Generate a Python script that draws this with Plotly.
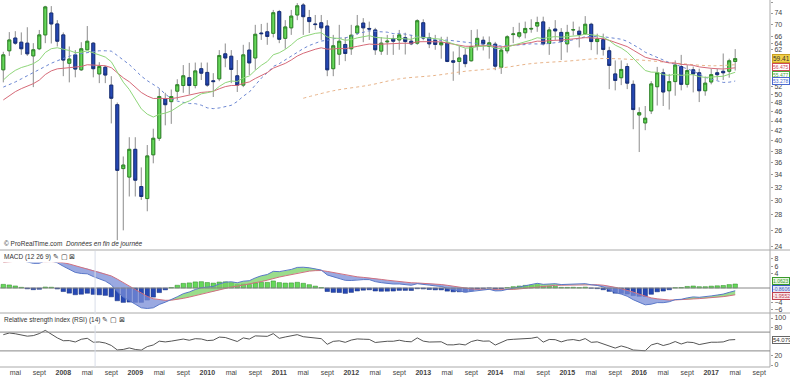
import numpy as np
import plotly.graph_objects as go

# ---------------- DATA (monthly, Mar 2007 -> May 2017) ----------------
opens = [56.3,61.7,65.6,64.3,64.0,60.2,62.3,66.6,74.0,70.2,66.6,58.1,60.5,56.3,62.0,64.0,55.2,57.0,52.3,47.6,
         35.0,33.6,38.4,32.1,30.3,37.4,40.5,49.0,48.3,50.8,52.2,54.2,52.2,56.6,55.6,53.4,53.9,60.8,60.1,54.7,
         52.3,61.9,59.6,67.2,67.6,67.1,74.5,65.5,68.9,73.3,76.9,72.4,70.2,70.6,69.5,56.6,60.7,63.6,62.3,67.2,
         70.5,68.7,68.2,61.6,64.4,65.4,65.0,65.7,64.6,64.0,70.6,65.7,64.9,63.5,64.0,58.8,58.6,60.4,58.8,63.0,
         64.9,63.0,63.7,57.0,61.7,66.7,66.2,67.3,68.5,69.5,70.9,63.9,68.5,67.4,63.8,68.2,67.8,67.0,70.1,64.5,
         65.1,61.7,55.2,54.2,57.2,52.5,45.3,43.6,46.2,51.9,55.5,50.9,53.2,57.2,52.5,56.3,55.5,50.9,53.1,55.5,
         55.9,55.9,58.6]
highs = [61.4,67.5,67.8,67.4,69.1,64.0,68.2,76.6,76.5,71.5,67.4,63.0,61.9,64.3,69.5,64.3,58.4,57.4,54.6,48.1,
         37.1,40.7,40.7,35.2,39.2,42.4,51.4,50.4,51.2,53.8,57.6,58.2,58.3,58.3,58.3,55.4,61.9,63.9,61.9,59.0,
         63.5,64.3,69.9,70.2,70.6,75.1,75.1,71.5,75.1,77.6,77.6,75.1,73.3,73.3,71.5,66.6,69.9,65.9,69.9,73.3,
         72.2,71.0,68.9,65.9,66.6,66.6,68.2,67.3,66.6,71.8,71.8,67.3,66.6,66.0,66.0,61.5,63.1,62.4,68.2,68.4,
         66.1,66.1,64.4,63.0,66.5,69.2,70.6,71.0,71.8,72.7,72.7,69.2,71.5,68.8,69.9,71.0,69.3,72.9,70.6,67.0,
         67.0,62.9,58.9,58.9,58.1,53.5,47.0,47.3,53.3,57.1,56.6,55.2,58.9,60.5,57.6,57.2,56.6,54.5,56.6,56.6,
         60.9,59.4,62.2]
lows = [53.0,60.2,63.5,60.5,60.2,51.8,61.9,64.0,63.9,63.0,54.6,53.0,54.3,56.0,61.9,54.3,52.8,52.8,43.5,24.8,
        26.0,30.6,30.6,30.1,28.5,35.9,40.0,43.1,43.4,48.7,50.4,50.0,51.5,53.6,51.9,49.4,53.3,57.0,52.8,50.6,
        51.8,54.9,56.3,65.0,63.5,65.8,64.0,62.3,66.6,71.5,66.6,67.2,68.2,65.0,54.6,54.6,57.6,58.7,60.5,66.6,
        64.3,65.0,60.5,60.5,60.5,60.5,62.0,60.6,63.4,63.5,64.9,62.5,62.0,59.4,58.4,53.4,55.0,57.0,58.6,61.8,
        61.8,59.4,56.2,55.2,60.9,64.0,65.5,65.5,67.3,67.6,63.3,60.5,65.0,59.0,61.2,66.4,62.7,66.6,61.9,60.6,
        60.3,51.3,51.0,52.3,51.3,42.3,37.9,42.1,45.5,47.4,47.3,46.5,49.7,51.0,51.7,50.5,48.2,49.7,52.5,53.6,
        53.6,54.2,56.1]
closes = [60.5,65.0,64.0,62.3,60.8,62.0,66.6,76.2,70.2,64.6,59.0,59.3,56.5,62.3,64.6,56.6,57.2,54.9,49.1,34.7,
          35.6,38.4,33.1,30.6,37.2,40.5,49.5,47.6,49.5,52.4,54.7,52.2,56.0,55.4,52.3,53.2,60.3,59.6,56.4,52.3,
          60.5,58.2,66.8,67.0,66.1,74.1,65.2,69.2,72.9,76.6,72.7,71.0,70.0,68.9,56.3,63.2,64.6,60.9,66.5,69.5,
          68.9,68.5,62.0,64.0,64.6,64.6,66.6,64.5,63.8,71.3,65.6,63.8,63.6,64.2,58.6,58.4,59.6,58.0,63.0,65.5,
          63.8,64.1,57.3,61.9,66.0,66.9,67.3,68.7,68.7,70.7,63.8,68.2,67.9,64.6,67.4,68.3,66.7,70.1,64.5,65.3,
          62.1,57.5,53.5,56.4,52.8,46.5,45.8,44.6,52.6,55.5,50.6,53.2,57.6,52.5,56.1,55.2,50.9,52.8,55.0,55.0,
          55.5,58.8,59.41]

start_year, start_month = 2007, 3
years = [2007, 2008, 2009, 2010, 2011, 2012, 2013, 2014, 2015, 2016, 2017]
month_ticks = {1: None, 5: "mai", 9: "sept"}

# moving averages (seeds read at the left edge of the chart)
green_span, green_seed = 15, 53.6
red_span, red_seed = 30, 48.7
blue_window = 20
blue_early = [51.8,52.4,53.1,53.9,54.7,55.6,56.5,57.3,58.1,58.8,59.5,60.1,60.6,60.9,61.2,61.5,61.7,61.7,61.6]
orange_idx = [50,55,61,66,72,77,83,88,94,99,102,107,113,118,122]
orange_val = [49.1,50.9,52.3,53.9,54.8,55.9,56.8,58.0,58.7,59.4,59.4,58.9,58.0,57.4,57.7]

# MACD / RSI seeds
macd_fast_seed, macd_slow_seed, macd_signal_seed = 57.0, 49.0, 7.0
rsi_gain_seed, rsi_loss_seed = 2.0, 1.1

# value boxes on the right axes (as printed): text, value, colour, small vertical nudge
last_close_txt = "59.41"
ma_box = [("56.475", 56.475, "#d04a5a", 2), ("55.477", 55.477, "#4aa83a", -2), ("53.278", 53.278, "#4a6ad0", 0)]
macd_box = [("1.0623", 1.0623, "#3a9a2a", "#e6f6e0", 3), ("-0.8606", -0.8606, "#3a5ac0", "#e4e8f8", 2),
            ("-1.9552", -1.9552, "#c04050", "#f8e4e8", -1)]
rsi_box = ("54.079", 54.079)

main_ticks = [78, 74, 70, 66, 64, 62, 52, 50, 48, 46, 44, 42, 40, 38, 36, 34, 32, 30, 28, 26, 24]
macd_ticks = [8, 6, 4, -4, -6]
rsi_ticks = [100, 80, 20, 0]

# ---------------- computations ----------------
n = len(closes)
idx = np.arange(n)
o = np.array(opens); h = np.array(highs); l = np.array(lows); c = np.array(closes)


def ema(vals, span, seed):
    a = 2.0 / (span + 1)
    out = [seed]
    for v in vals[1:]:
        out.append(out[-1] + a * (v - out[-1]))
    return np.array(out)


green_ma = ema(c, green_span, green_seed)
red_ma = ema(c, red_span, red_seed)
blue_ma = np.array(blue_early + [c[i - blue_window + 1:i + 1].mean() for i in range(len(blue_early), n)])

fast = ema(c, 12, macd_fast_seed)
slow = ema(c, 26, macd_slow_seed)
macd = fast - slow
sig = [macd_signal_seed]
for v in macd[1:]:
    sig.append(sig[-1] + 0.2 * (v - sig[-1]))
sig = np.array(sig)
hist = macd - sig

ag, al = rsi_gain_seed, rsi_loss_seed
rsi = [100 - 100 / (1 + ag / al)]
for i in range(1, n):
    d = c[i] - c[i - 1]
    ag = (ag * 13 + max(d, 0)) / 14
    al = (al * 13 + max(-d, 0)) / 14
    rsi.append(100 - 100 / (1 + ag / al))
rsi = np.array(rsi)

# ---------------- layout geometry ----------------
W, H = 790, 377
MT, MB, ML, MR = 0, 10, 0, 20
PH = H - MT - MB


def py(p):
    return (PH - p) / PH


X0, X1 = -0.55, 127.8
main_dom = [py(250), 1]
macd_dom = [py(313), py(251)]
rsi_dom = [0, py(314)]
main_rng = [np.log10(74 * np.exp(-(250 - 13) / 207.8)), np.log10(74 * np.exp(13 / 207.8))]
macd_rng = [(288 - 313) / 3.643, (288 - 251) / 3.643]
rsi_rng = [(365 - 367) / 0.47, (365 - 314) / 0.47]

fig = go.Figure()

GREEN, GREEN_D = "#66d85a", "#2f8a28"
BLUE, BLUE_D = "#2648b4", "#17307c"
WICK = "#8c8c8c"

fig.add_trace(go.Candlestick(x=idx, open=o, high=h, low=l, close=c,
                             increasing=dict(line=dict(color=WICK, width=1), fillcolor=WICK),
                             decreasing=dict(line=dict(color=WICK, width=1), fillcolor=WICK),
                             whiskerwidth=0, hoverinfo="skip", yaxis="y"))
fig.add_trace(go.Candlestick(x=idx, open=o, high=np.maximum(o, c), low=np.minimum(o, c), close=c,
                             increasing=dict(line=dict(color=GREEN_D, width=1), fillcolor=GREEN),
                             decreasing=dict(line=dict(color=BLUE_D, width=1), fillcolor=BLUE),
                             whiskerwidth=0, hoverinfo="skip", yaxis="y"))

fig.add_trace(go.Scatter(x=orange_idx, y=orange_val, mode="lines", line=dict(color="#e8b48a", width=1, dash="dot", shape="spline"), yaxis="y"))
fig.add_trace(go.Scatter(x=idx, y=blue_ma, mode="lines", line=dict(color="#6b86d2", width=1, dash="dot"), yaxis="y"))
fig.add_trace(go.Scatter(x=idx, y=red_ma, mode="lines", line=dict(color="#d66a78", width=1), yaxis="y"))
fig.add_trace(go.Scatter(x=idx, y=green_ma, mode="lines", line=dict(color="#8fd67a", width=1), yaxis="y"))

gx, gy, bx, by = [], [], [], []
for i in range(n - 1):
    m0, m1, s0, s1 = macd[i], macd[i + 1], sig[i], sig[i + 1]
    d0, d1 = m0 - s0, m1 - s1
    if d0 * d1 >= 0:
        tx, ty = ([i, i + 1, i + 1, i, None], [m0, m1, s1, s0, None])
        if d0 + d1 >= 0:
            gx += tx; gy += ty
        else:
            bx += tx; by += ty
    else:
        t = d0 / (d0 - d1)
        xc, yc = i + t, m0 + t * (m1 - m0)
        p1 = ([i, xc, i, None], [m0, yc, s0, None])
        p2 = ([xc, i + 1, i + 1, None], [yc, m1, s1, None])
        for (tx, ty), d in ((p1, d0), (p2, d1)):
            if d >= 0:
                gx += tx; gy += ty
            else:
                bx += tx; by += ty
fig.add_trace(go.Scatter(x=gx, y=gy, mode="none", fill="toself", fillcolor="rgba(120,210,100,0.75)", yaxis="y2"))
fig.add_trace(go.Scatter(x=bx, y=by, mode="none", fill="toself", fillcolor="rgba(120,140,215,0.75)", yaxis="y2"))

fig.add_trace(go.Bar(x=idx, y=hist, width=0.75,
                     marker=dict(color=[GREEN if v >= 0 else BLUE for v in hist],
                                 line=dict(color=[GREEN_D if v >= 0 else BLUE_D for v in hist], width=0.5)),
                     yaxis="y2"))
fig.add_trace(go.Scatter(x=idx, y=sig, mode="lines", line=dict(color="#d07080", width=1), yaxis="y2"))
fig.add_trace(go.Scatter(x=idx, y=macd, mode="lines", line=dict(color="#5a78c8", width=1), yaxis="y2"))

fig.add_trace(go.Scatter(x=idx, y=rsi, mode="lines", line=dict(color="#555555", width=1), yaxis="y3"))

tickvals, ticktext = [], []
for yr in years:
    for m, lab in month_ticks.items():
        k = (yr - start_year) * 12 + (m - start_month)
        if X0 <= k <= X1:
            tickvals.append(k)
            ticktext.append(f"<b>{yr}</b>" if lab is None else lab)

AX_FONT = dict(family="Liberation Sans, Arial, sans-serif", size=7, color="#444444")

fig.update_layout(
    width=W, height=H, margin=dict(l=ML, r=MR, t=MT, b=MB),
    paper_bgcolor="white", plot_bgcolor="white", showlegend=False,
    boxgap=0.3, bargap=0.2,
    xaxis=dict(range=[X0, X1], anchor="y3", showgrid=False, zeroline=False, rangeslider=dict(visible=False),
               tickvals=tickvals, ticktext=ticktext, tickfont=AX_FONT, ticks="", showline=False, ticklabelstandoff=0),
    yaxis=dict(domain=main_dom, type="log", range=main_rng, side="right", showgrid=False, zeroline=False,
               tickvals=main_ticks, ticktext=[str(v) for v in main_ticks], tickfont=AX_FONT,
               ticks="outside", ticklen=2, tickcolor="#999", anchor="x"),
    yaxis2=dict(domain=macd_dom, range=macd_rng, side="right", showgrid=False, zeroline=False,
                tickvals=macd_ticks, tickfont=AX_FONT, ticks="outside", ticklen=2,
                tickcolor="#999", anchor="x"),
    yaxis3=dict(domain=rsi_dom, range=rsi_rng, side="right", showgrid=False, zeroline=False,
                tickvals=rsi_ticks, tickfont=AX_FONT, ticks="outside", ticklen=2,
                tickcolor="#999", anchor="x"),
)

LINE = dict(color="#aaaaaa", width=1)
shapes = [
    dict(type="line", xref="paper", yref="paper", x0=1, x1=1, y0=0, y1=1, line=LINE),
    dict(type="line", xref="paper", yref="paper", x0=0, x1=1.03, y0=main_dom[0], y1=main_dom[0], line=LINE),
    dict(type="line", xref="paper", yref="paper", x0=0, x1=1.03, y0=macd_dom[0], y1=macd_dom[0], line=LINE),
    dict(type="line", xref="paper", yref="paper", x0=0, x1=1, y0=0, y1=0, line=LINE),
    dict(type="line", xref="paper", yref="y2", x0=0, x1=1, y0=0, y1=0, line=dict(color="#888", width=1)),
    dict(type="line", xref="paper", yref="y3", x0=0, x1=1, y0=70, y1=70, line=dict(color="#888", width=1)),
    dict(type="line", xref="paper", yref="y3", x0=0, x1=1, y0=30, y1=30, line=dict(color="#888", width=1)),
    dict(type="line", xref="x", yref="paper", x0=15.3, x1=15.3, y0=0, y1=macd_dom[1], line=dict(color="#d8dde8", width=1)),
]
fig.update_layout(shapes=shapes)

TXT = dict(family="Liberation Sans, Arial, sans-serif", size=6.5, color="#333333")
NARROW = "Liberation Sans Narrow, Liberation Sans, Arial, sans-serif"
ann = [
    dict(text="© ProRealTime.com  <i>Données en fin de journée</i>", x=0.002, y=main_dom[0], xref="paper", yref="paper",
         xanchor="left", yanchor="bottom", showarrow=False, font=TXT),
    dict(text="MACD (12 26 9) ✎ ▢ ⊠", x=0.002, y=macd_dom[1], xref="paper", yref="paper",
         xanchor="left", yanchor="top", showarrow=False, font=TXT, bgcolor="white"),
    dict(text="Relative strength index (RSI) (14) ✎ ▢ ⊠", x=0.002, y=rsi_dom[1], xref="paper", yref="paper",
         xanchor="left", yanchor="top", showarrow=False, font=TXT, bgcolor="white"),
    dict(text=last_close_txt, x=1.002, y=np.log10(closes[-1]), xref="paper", yref="y", xanchor="left",
         showarrow=False, font=dict(family=TXT["family"], size=6.5, color="#333"), bgcolor="#f2d04a",
         bordercolor="#c9a020", borderwidth=1, borderpad=0),
]
for txt, v, col, sh in ma_box:
    ann.append(dict(text=txt, x=1.002, y=np.log10(v), yshift=sh, xref="paper", yref="y", xanchor="left",
                    showarrow=False, font=dict(family=NARROW, size=5, color=col), bgcolor="white",
                    bordercolor=col, borderwidth=1, borderpad=0))
for txt, v, col, bg, sh in macd_box:
    ann.append(dict(text=txt, x=1.002, y=v, yshift=sh, xref="paper", yref="y2", xanchor="left", showarrow=False,
                    font=dict(family=NARROW, size=5, color=col), bgcolor=bg, bordercolor=col,
                    borderwidth=1, borderpad=0))
ann.append(dict(text=rsi_box[0], x=1.002, y=rsi_box[1], xref="paper", yref="y3", xanchor="left", showarrow=False,
                font=dict(family=NARROW, size=6, color="#333"), bgcolor="white", bordercolor="#666",
                borderwidth=1, borderpad=0))
fig.update_layout(annotations=ann)

fig.write_html("out.html", config={"displayModeBar": False},
               post_script="document.body.style.margin='0';document.body.style.overflow='hidden';")
